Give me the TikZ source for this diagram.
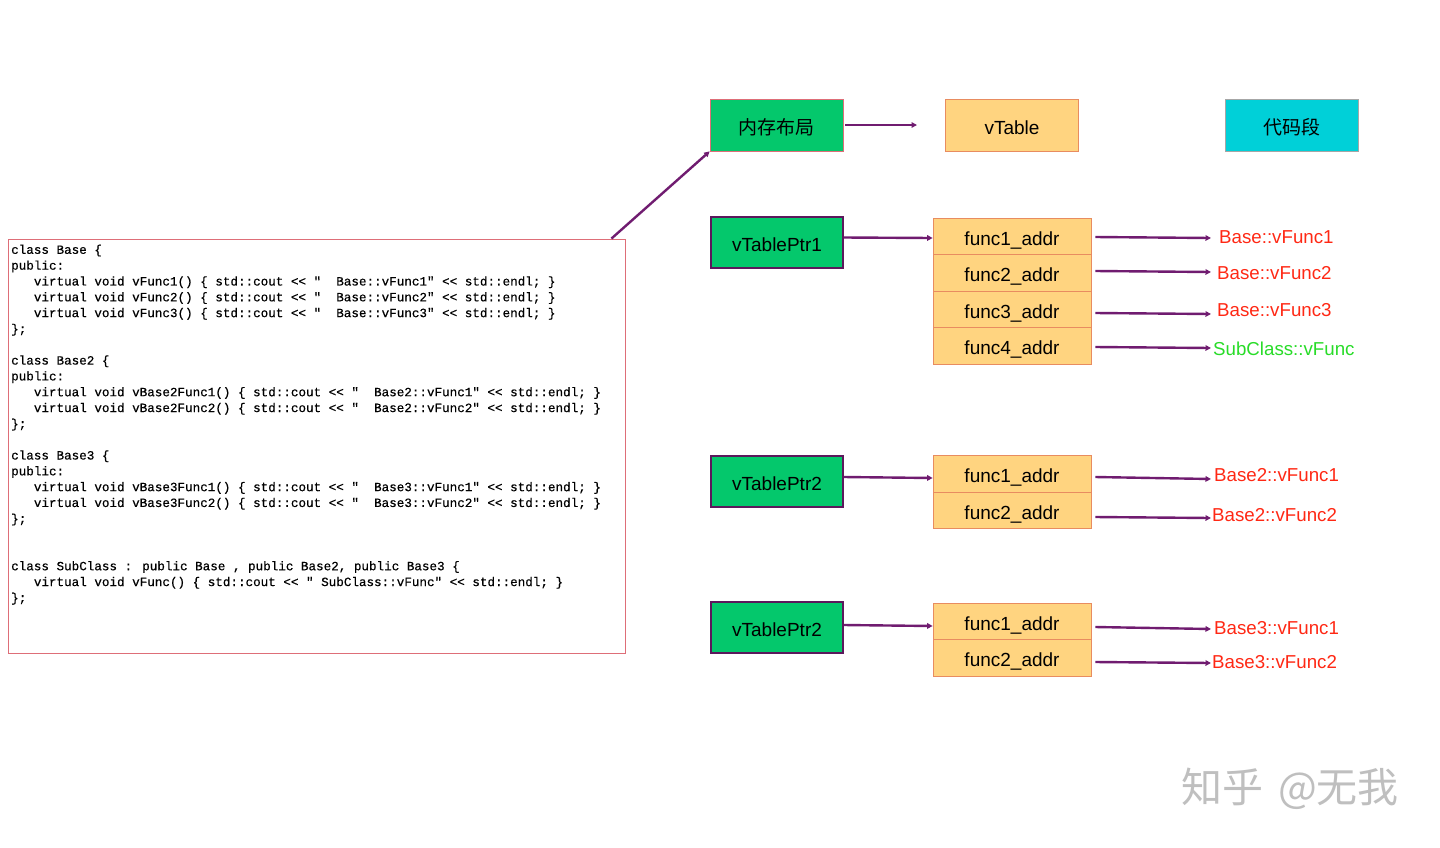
\documentclass[tikz,border=0pt]{standalone}
\usepackage{fontspec}
\setmainfont{Liberation Sans}
\newfontfamily\codefont[Ligatures=TeXOff,FakeBold=0.4]{Liberation Mono}
\newfontfamily\cjk{Noto Sans CJK SC}
\usetikzlibrary{arrows.meta}
\definecolor{gfill}{RGB}{4,200,108}
\definecolor{ofill}{RGB}{255,212,128}
\definecolor{oline}{RGB}{232,140,96}
\definecolor{cfill}{RGB}{0,208,216}
\definecolor{purp}{RGB}{112,28,112}
\definecolor{dpurp}{RGB}{92,24,92}
\definecolor{redtxt}{RGB}{255,40,20}
\definecolor{grntxt}{RGB}{40,220,40}
\definecolor{codeline}{RGB}{222,110,120}
\newcommand\ind{\hspace*{22.7pt}}
\tikzset{
  hdr/.style={rectangle, minimum width=133pt, minimum height=52pt, inner sep=0pt, text height=19.8pt, text depth=0pt, font=\fontsize{19}{22}\selectfont},
  ptrbox/.style={rectangle, fill=gfill, draw=dpurp, line width=1.8pt, minimum width=132pt, minimum height=51pt, inner sep=0pt, text height=18.8pt, text depth=0pt, font=\fontsize{19}{22}\selectfont},
  row/.style={rectangle, fill=ofill, draw=oline, line width=0.7pt, minimum width=158pt, minimum height=36.5pt, inner sep=0pt, text height=17pt, text depth=0pt, font=\fontsize{19}{22}\selectfont},
  lbl/.style={anchor=west, inner ysep=2pt, font=\fontsize{18.7}{22}\selectfont, text=redtxt},
  arr/.style={draw=purp, line width=2.4pt, -{Triangle[length=5.5pt,width=5.5pt]}},
}
\begin{document}
\begin{tikzpicture}[x=1pt,y=-1pt]
\useasboundingbox[fill=white] (0,0) rectangle (1440,847);

% code box
\node[rectangle, draw=codeline, line width=0.8pt, minimum width=617pt, minimum height=414pt, inner sep=0pt] (code) at (316.5,446) {};
\node[anchor=north west, inner sep=0pt, align=left, font=\codefont\fontsize{12.6}{15.82}\selectfont] (codetext) at (11,244.5) {%
class Base \{\\
public:\\
\ind virtual void vFunc1() \{ std::cout << "~~Base::vFunc1" << std::endl; \}\\
\ind virtual void vFunc2() \{ std::cout << "~~Base::vFunc2" << std::endl; \}\\
\ind virtual void vFunc3() \{ std::cout << "~~Base::vFunc3" << std::endl; \}\\
\};\\
\mbox{}\\
class Base2 \{\\
public:\\
\ind virtual void vBase2Func1() \{ std::cout << "~~Base2::vFunc1" << std::endl; \}\\
\ind virtual void vBase2Func2() \{ std::cout << "~~Base2::vFunc2" << std::endl; \}\\
\};\\
\mbox{}\\
class Base3 \{\\
public:\\
\ind virtual void vBase3Func1() \{ std::cout << "~~Base3::vFunc1" << std::endl; \}\\
\ind virtual void vBase3Func2() \{ std::cout << "~~Base3::vFunc2" << std::endl; \}\\
\};\\
\mbox{}\\
\mbox{}\\
class SubClass : public Base , public Base2, public Base3 \{\\
\ind virtual void vFunc() \{ std::cout << " SubClass::vFunc" << std::endl; \}\\
\};};

% header boxes
\node[hdr, fill=gfill, draw=codeline, line width=0.7pt] (mem) at (776.5,125) {\cjk 内存布局};
\node[hdr, fill=ofill, draw=oline, line width=0.7pt] (vt) at (1012,125) {vTable};
\node[hdr, fill=cfill, draw=gray!70, line width=0.7pt] (seg) at (1292,125) {\cjk 代码段};
\coordinate (vtin) at (917,125);
\draw[arr] ([xshift=2pt]mem.east) -- (vtin);
\draw[arr] ([xshift=-14pt]code.north east) -- (mem.south west);

% pointer boxes
\node[ptrbox] (p1) at (777,242.5) {vTablePtr1};
\node[ptrbox] (p2) at (777,481.5) {vTablePtr2};
\node[ptrbox] (p3) at (777,627.5) {vTablePtr2};

% table 1
\node[row] (t1a) at (1012,236.5) {func1\_addr};
\node[row] (t1b) at (1012,273) {func2\_addr};
\node[row] (t1c) at (1012,309.5) {func3\_addr};
\node[row] (t1d) at (1012,346) {func4\_addr};
% table 2
\node[row] (t2a) at (1012,474) {func1\_addr};
\node[row] (t2b) at (1012,510.5) {func2\_addr};
% table 3
\node[row] (t3a) at (1012,621.5) {func1\_addr};
\node[row] (t3b) at (1012,658) {func2\_addr};

% labels (west edge at x=1211, where the arrows end)
\node[lbl, inner xsep=8pt] (f1) at (1211,237) {Base::vFunc1};
\node[lbl, inner xsep=6pt] (f2) at (1211,273) {Base::vFunc2};
\node[lbl, inner xsep=6pt] (f3) at (1211,310) {Base::vFunc3};
\node[lbl, inner xsep=2pt, text=grntxt] (f4) at (1211,349) {SubClass::vFunc};
\node[lbl, inner xsep=3pt] (g1) at (1211,475) {Base2::vFunc1};
\node[lbl, inner xsep=1pt] (g2) at (1211,515) {Base2::vFunc2};
\node[lbl, inner xsep=3pt] (h1) at (1211,628) {Base3::vFunc1};
\node[lbl, inner xsep=1pt] (h2) at (1211,662) {Base3::vFunc2};

% arrows
\draw[arr] ([yshift=5pt]p1.east) -- ([yshift=-1.5pt]t1a.west);
\draw[arr] ([yshift=4.5pt]p2.east) -- ([yshift=-4pt]t2a.west);
\draw[arr] ([yshift=2.5pt]p3.east) -- ([yshift=-4.5pt]t3a.west);

\draw[arr] ([xshift=4pt,yshift=-0.5pt]t1a.east) -- ([yshift=-1pt]f1.west);
\draw[arr] ([xshift=4pt,yshift=2pt]t1b.east) -- ([yshift=1pt]f2.west);
\draw[arr] ([xshift=4pt,yshift=-3.5pt]t1c.east) -- ([yshift=-4pt]f3.west);
\draw[arr] ([xshift=4pt,yshift=-1pt]t1d.east) -- ([yshift=1pt]f4.west);
\draw[arr] ([xshift=4pt,yshift=-3pt]t2a.east) -- ([yshift=-4pt]g1.west);
\draw[arr] ([xshift=4pt,yshift=-6.5pt]t2b.east) -- ([yshift=-3pt]g2.west);
\draw[arr] ([xshift=4pt,yshift=-5.5pt]t3a.east) -- ([yshift=-1pt]h1.west);
\draw[arr] ([xshift=4pt,yshift=-4pt]t3b.east) -- ([yshift=-1pt]h2.west);

% watermark
\node[text=gray!50, font=\cjk\fontsize{41}{44}\selectfont] (wm) at (1290,789) {知乎\hspace{6pt} @无我};
\end{tikzpicture}
\end{document}
